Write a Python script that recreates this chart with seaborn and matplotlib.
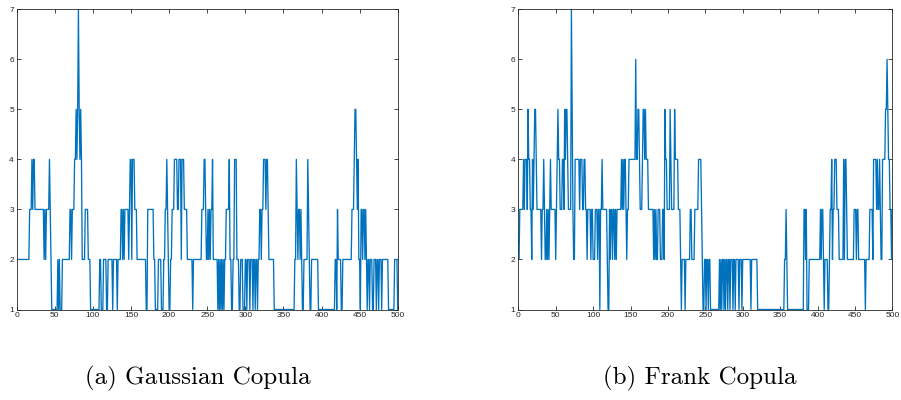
import numpy as np
import pandas as pd
import seaborn as sns
import matplotlib
matplotlib.use("Agg")
import matplotlib.pyplot as plt

# Number of selected items per iteration, Gaussian copula model
gaussian = [
    2, 2, 2, 2, 2, 2, 2, 2, 2, 2,
    2, 2, 2, 2, 2, 2, 3, 3, 3, 4,
    3, 4, 4, 3, 3, 3, 3, 3, 3, 3,
    3, 3, 3, 3, 3, 2, 3, 2, 3, 3,
    3, 3, 4, 3, 2, 1, 1, 1, 1, 1,
    1, 1, 1, 2, 1, 2, 1, 1, 1, 2,
    2, 2, 2, 2, 2, 2, 2, 2, 2, 3,
    3, 2, 3, 3, 3, 4, 4, 5, 4, 5,
    7, 5, 4, 5, 4, 2, 2, 2, 2, 3,
    3, 3, 3, 2, 2, 2, 1, 1, 1, 1,
    1, 1, 1, 1, 1, 1, 1, 1, 2, 2,
    1, 1, 1, 2, 2, 2, 2, 1, 1, 2,
    2, 2, 2, 2, 2, 1, 2, 2, 2, 2,
    2, 1, 2, 2, 2, 2, 3, 3, 2, 3,
    2, 3, 3, 3, 3, 3, 2, 3, 4, 4,
    2, 4, 4, 4, 3, 3, 3, 2, 2, 2,
    2, 2, 2, 2, 2, 2, 2, 2, 2, 1,
    1, 3, 3, 3, 3, 3, 3, 3, 3, 2,
    2, 1, 1, 1, 1, 2, 2, 2, 2, 1,
    1, 1, 2, 2, 3, 3, 4, 3, 2, 1,
    1, 2, 2, 3, 3, 3, 4, 4, 4, 4,
    3, 3, 4, 4, 4, 2, 4, 4, 4, 3,
    3, 3, 3, 2, 2, 2, 2, 2, 2, 2,
    1, 2, 2, 2, 2, 2, 2, 2, 2, 2,
    2, 2, 3, 3, 3, 4, 4, 3, 2, 2,
    3, 2, 3, 2, 3, 3, 4, 2, 2, 2,
    2, 2, 2, 1, 2, 1, 2, 1, 2, 1,
    2, 1, 2, 2, 3, 3, 3, 3, 4, 2,
    2, 1, 1, 2, 2, 4, 4, 4, 2, 2,
    2, 1, 1, 2, 2, 2, 1, 1, 1, 2,
    2, 1, 2, 2, 2, 1, 2, 2, 2, 1,
    2, 2, 1, 2, 2, 1, 2, 2, 3, 3,
    2, 3, 3, 4, 4, 4, 3, 4, 4, 3,
    2, 2, 2, 2, 2, 2, 2, 1, 1, 1,
    1, 1, 1, 1, 1, 1, 1, 1, 1, 1,
    1, 1, 1, 1, 1, 1, 1, 1, 1, 1,
    1, 1, 1, 1, 2, 2, 4, 3, 2, 3,
    3, 2, 3, 2, 1, 1, 2, 2, 2, 2,
    2, 4, 3, 2, 1, 1, 2, 2, 2, 2,
    2, 2, 2, 2, 2, 1, 1, 1, 1, 1,
    1, 1, 1, 1, 1, 1, 1, 1, 1, 1,
    1, 1, 1, 1, 1, 1, 1, 2, 2, 1,
    3, 2, 2, 2, 2, 1, 1, 2, 2, 2,
    2, 2, 2, 2, 2, 2, 2, 2, 2, 3,
    3, 3, 4, 5, 5, 4, 3, 4, 2, 2,
    1, 3, 3, 2, 3, 3, 2, 3, 2, 1,
    2, 2, 1, 2, 2, 2, 1, 1, 2, 2,
    2, 1, 2, 2, 1, 2, 2, 2, 1, 2,
    2, 2, 2, 2, 2, 2, 2, 1, 1, 1,
    1, 1, 1, 1, 1, 2, 2, 2, 2, 1,
]

# Number of selected items per iteration, Frank copula model
frank = [
    2, 3, 3, 3, 3, 3, 4, 3, 4, 4,
    4, 3, 5, 4, 4, 3, 3, 2, 4, 3,
    4, 5, 5, 4, 3, 3, 3, 3, 3, 3,
    2, 3, 3, 4, 3, 2, 2, 3, 2, 3,
    2, 3, 4, 3, 3, 3, 3, 3, 3, 2,
    3, 4, 5, 4, 4, 3, 3, 3, 4, 4,
    3, 5, 4, 5, 5, 4, 3, 3, 3, 3,
    7, 5, 3, 2, 2, 4, 4, 4, 4, 4,
    4, 3, 4, 4, 4, 3, 3, 4, 4, 3,
    3, 2, 3, 3, 3, 3, 2, 3, 3, 2,
    2, 2, 3, 3, 3, 2, 3, 3, 1, 3,
    3, 4, 3, 3, 3, 3, 3, 3, 2, 1,
    1, 3, 2, 3, 3, 2, 3, 3, 2, 3,
    2, 3, 3, 3, 3, 3, 3, 4, 3, 4,
    3, 4, 4, 3, 2, 3, 3, 4, 4, 4,
    4, 4, 4, 4, 4, 4, 6, 4, 4, 5,
    5, 4, 3, 3, 3, 4, 5, 5, 4, 5,
    4, 4, 4, 3, 3, 3, 3, 3, 3, 3,
    2, 3, 2, 3, 2, 2, 3, 3, 3, 2,
    2, 2, 3, 3, 2, 5, 4, 4, 3, 3,
    3, 3, 5, 4, 3, 3, 3, 3, 5, 4,
    4, 4, 4, 3, 3, 3, 2, 1, 2, 2,
    2, 2, 1, 2, 2, 2, 2, 2, 2, 3,
    3, 2, 2, 2, 2, 3, 3, 3, 3, 3,
    4, 4, 4, 4, 3, 2, 1, 1, 2, 2,
    1, 2, 2, 1, 2, 2, 1, 1, 1, 1,
    1, 1, 1, 1, 1, 1, 1, 1, 2, 1,
    2, 1, 2, 2, 1, 2, 1, 2, 2, 1,
    2, 2, 1, 2, 2, 2, 1, 2, 2, 1,
    2, 2, 2, 2, 1, 2, 2, 2, 1, 2,
    2, 2, 2, 2, 2, 2, 2, 2, 2, 2,
    1, 2, 2, 2, 2, 2, 2, 2, 2, 1,
    1, 1, 1, 1, 1, 1, 1, 1, 1, 1,
    1, 1, 1, 1, 1, 1, 1, 1, 1, 1,
    1, 1, 1, 1, 1, 1, 1, 1, 1, 1,
    1, 1, 1, 1, 1, 2, 2, 3, 2, 1,
    1, 1, 1, 1, 1, 1, 1, 1, 1, 1,
    1, 1, 1, 1, 1, 1, 1, 1, 1, 1,
    1, 3, 3, 2, 3, 1, 1, 1, 2, 2,
    2, 2, 2, 2, 2, 2, 2, 2, 2, 2,
    2, 2, 2, 3, 2, 3, 3, 2, 1, 2,
    2, 2, 2, 1, 1, 2, 3, 3, 4, 2,
    3, 3, 4, 4, 4, 3, 3, 3, 2, 2,
    2, 2, 2, 2, 4, 2, 4, 4, 3, 2,
    2, 2, 2, 2, 2, 2, 2, 2, 3, 3,
    3, 2, 3, 3, 2, 2, 2, 2, 2, 2,
    2, 2, 2, 1, 2, 2, 2, 2, 2, 3,
    3, 3, 3, 2, 4, 4, 4, 4, 3, 4,
    3, 3, 4, 3, 2, 2, 4, 4, 4, 4,
    5, 5, 6, 5, 4, 4, 3, 3, 2, 3,
]

captions = ["(a) Gaussian Copula", "(b) Frank Copula"]
x_ticks = [0, 50, 100, 150, 200, 250, 300, 350, 400, 450, 500]
y_ticks = [1, 2, 3, 4, 5, 6, 7]

sns.set_theme(style="ticks")
plt.rcParams["font.family"] = ["Liberation Sans", "DejaVu Sans"]

axis_grey = "#262626"
line_blue = "#0072BD"

fig = plt.figure(figsize=(9.01, 4.00), dpi=100)
panels = [
    (gaussian, [16.7 / 901, 1 - 309.5 / 400, 381.0 / 901, 300.2 / 400], 198),
    (frank, [518.3 / 901, 1 - 309.5 / 400, 374.0 / 901, 300.2 / 400], 700),
]

for (series, rect, cx), caption in zip(panels, captions):
    ax = fig.add_axes(rect)
    df = pd.DataFrame({"iteration": np.arange(1, len(series) + 1), "count": series})
    sns.lineplot(data=df, x="iteration", y="count", ax=ax, color=line_blue,
                 linewidth=0.95, estimator=None, errorbar=None)
    ax.set_xlim(0, 500)
    ax.set_ylim(1, 7)
    ax.set_xticks(x_ticks)
    ax.set_yticks(y_ticks)
    ax.set_xlabel("")
    ax.set_ylabel("")
    for side in ["left", "right", "top", "bottom"]:
        ax.spines[side].set_visible(True)
        ax.spines[side].set_color(axis_grey)
        ax.spines[side].set_linewidth(0.6)
    ax.tick_params(axis="both", which="major", direction="in", length=3,
                   width=0.6, color=axis_grey, labelcolor=axis_grey,
                   labelsize=6, top=True, right=True, pad=2)
    ax.grid(False)
    fig.text(cx / 901, 1 - 378 / 400, caption, ha="center", va="center",
             fontsize=18, family="cmr10", color="black")

fig.savefig("out.png", dpi=100)
